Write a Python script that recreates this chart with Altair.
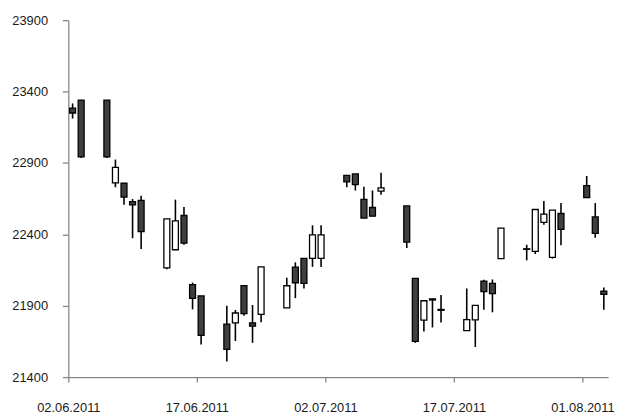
import altair as alt
import pandas as pd

dates = ["2011-06-02", "2011-06-03", "2011-06-06", "2011-06-07", "2011-06-08", "2011-06-09", "2011-06-10",
         "2011-06-13", "2011-06-14", "2011-06-15", "2011-06-16", "2011-06-17",
         "2011-06-20", "2011-06-21", "2011-06-22", "2011-06-23", "2011-06-24",
         "2011-06-27", "2011-06-28", "2011-06-29", "2011-06-30", "2011-07-01",
         "2011-07-04", "2011-07-05", "2011-07-06", "2011-07-07", "2011-07-08",
         "2011-07-11", "2011-07-12", "2011-07-13", "2011-07-14", "2011-07-15",
         "2011-07-18", "2011-07-19", "2011-07-20", "2011-07-21", "2011-07-22",
         "2011-07-25", "2011-07-26", "2011-07-27", "2011-07-28", "2011-07-29",
         "2011-08-01", "2011-08-02", "2011-08-03"]
opens = [23284, 23340, 23340, 22761, 22758, 22629, 22638,
         22165, 22292, 22532, 22048, 21969,
         21771, 21780, 22041, 21780, 21839,
         21885, 22170, 22232, 22232, 22232,
         22813, 22823, 22645, 22588, 22703,
         22599, 22091, 21799, 21940, 21868,
         21725, 21801, 22073, 22057, 22230,
         22295, 22280, 22484, 22239, 22546,
         22742, 22522, 22003]
highs = [23317, 23340, 23340, 22924, 22758, 22647, 22671,
         22509, 22643, 22592, 22062, 21969,
         21900, 21870, 22041, 21905, 22172,
         22096, 22204, 22232, 22463, 22463,
         22813, 22823, 22734, 22707, 22832,
         22599, 22091, 21935, 21948, 21976,
         22021, 21902, 22082, 22084, 22444,
         22327, 22574, 22633, 22569, 22619,
         22809, 22619, 22028]
lows = [23211, 22934, 22934, 22730, 22608, 22373, 22297,
        22156, 22292, 22327, 21874, 21629,
        21509, 21653, 21830, 21640, 21784,
        21885, 21953, 22020, 22172, 22172,
        22730, 22707, 22514, 22527, 22677,
        22304, 21640, 21720, 21748, 21782,
        21725, 21611, 21872, 21854, 22230,
        22218, 22262, 22468, 22230, 22324,
        22657, 22376, 21871]
closes = [23250, 22943, 22943, 22869, 22661, 22606, 22419,
          22509, 22495, 22338, 21951, 21692,
          21595, 21849, 21845, 21757, 22172,
          22040, 22061, 22057, 22396, 22396,
          22768, 22749, 22514, 22527, 22726,
          22345, 21650, 21935, 21948, 21874,
          21803, 21902, 21999, 21985, 22444,
          22299, 22574, 22541, 22569, 22435,
          22657, 22407, 21980]

y_ticks = [21400, 21900, 22400, 22900, 23400, 23900]
x_ticks = [(2011, 6, 2), (2011, 6, 17), (2011, 7, 2), (2011, 7, 17), (2011, 8, 1)]

df = pd.DataFrame({
    "date": [d + "T12:00:00" for d in dates],
    "open": opens, "high": highs, "low": lows, "close": closes,
})
df["dir"] = ["down" if c < o else "up" for o, c in zip(opens, closes)]

x_enc = alt.X(
    "date:T",
    scale=alt.Scale(domain=[alt.DateTime(year=2011, month=6, date=2),
                            alt.DateTime(year=2011, month=8, date=4)],
                    padding=0),
    axis=alt.Axis(values=[alt.DateTime(year=y, month=m, date=d) for y, m, d in x_ticks],
                  format="%d.%m.%Y", tickSize=5, labelPadding=20, grid=False,
                  labelAlign="center"),
    title=None,
)
y_scale = alt.Scale(domain=[21400, 23900], nice=False, zero=False, padding=0)

base = alt.Chart(df)

wicks = base.mark_rule(color="black", strokeWidth=1.6).encode(
    x=x_enc,
    y=alt.Y("low:Q", scale=y_scale,
            axis=alt.Axis(values=y_ticks, tickSize=6, labelPadding=15, grid=False, format="d"),
            title=None),
    y2="high:Q",
)

bodies = base.mark_bar(width=6, stroke="black", strokeWidth=1.3).encode(
    x=x_enc,
    y=alt.Y("open:Q", scale=y_scale),
    y2="close:Q",
    fill=alt.Fill("dir:N", scale=alt.Scale(domain=["down", "up"], range=["#3f3f3f", "#ffffff"]),
                  legend=None),
)

chart = (wicks + bodies).properties(
    width=546, height=361,
    autosize=alt.AutoSizeParams(type="none"),
    padding={"left": 61, "top": 10, "right": 10, "bottom": 38},
).configure_view(stroke=None).configure_axis(
    domainColor="#868686", tickColor="#868686", domainWidth=1.3, tickWidth=1.3,
    labelFont="Liberation Sans", labelFontSize=13, labelColor="#1a1a1a",
)

chart.save("out.html", embed_options={"renderer": "svg", "actions": False})
